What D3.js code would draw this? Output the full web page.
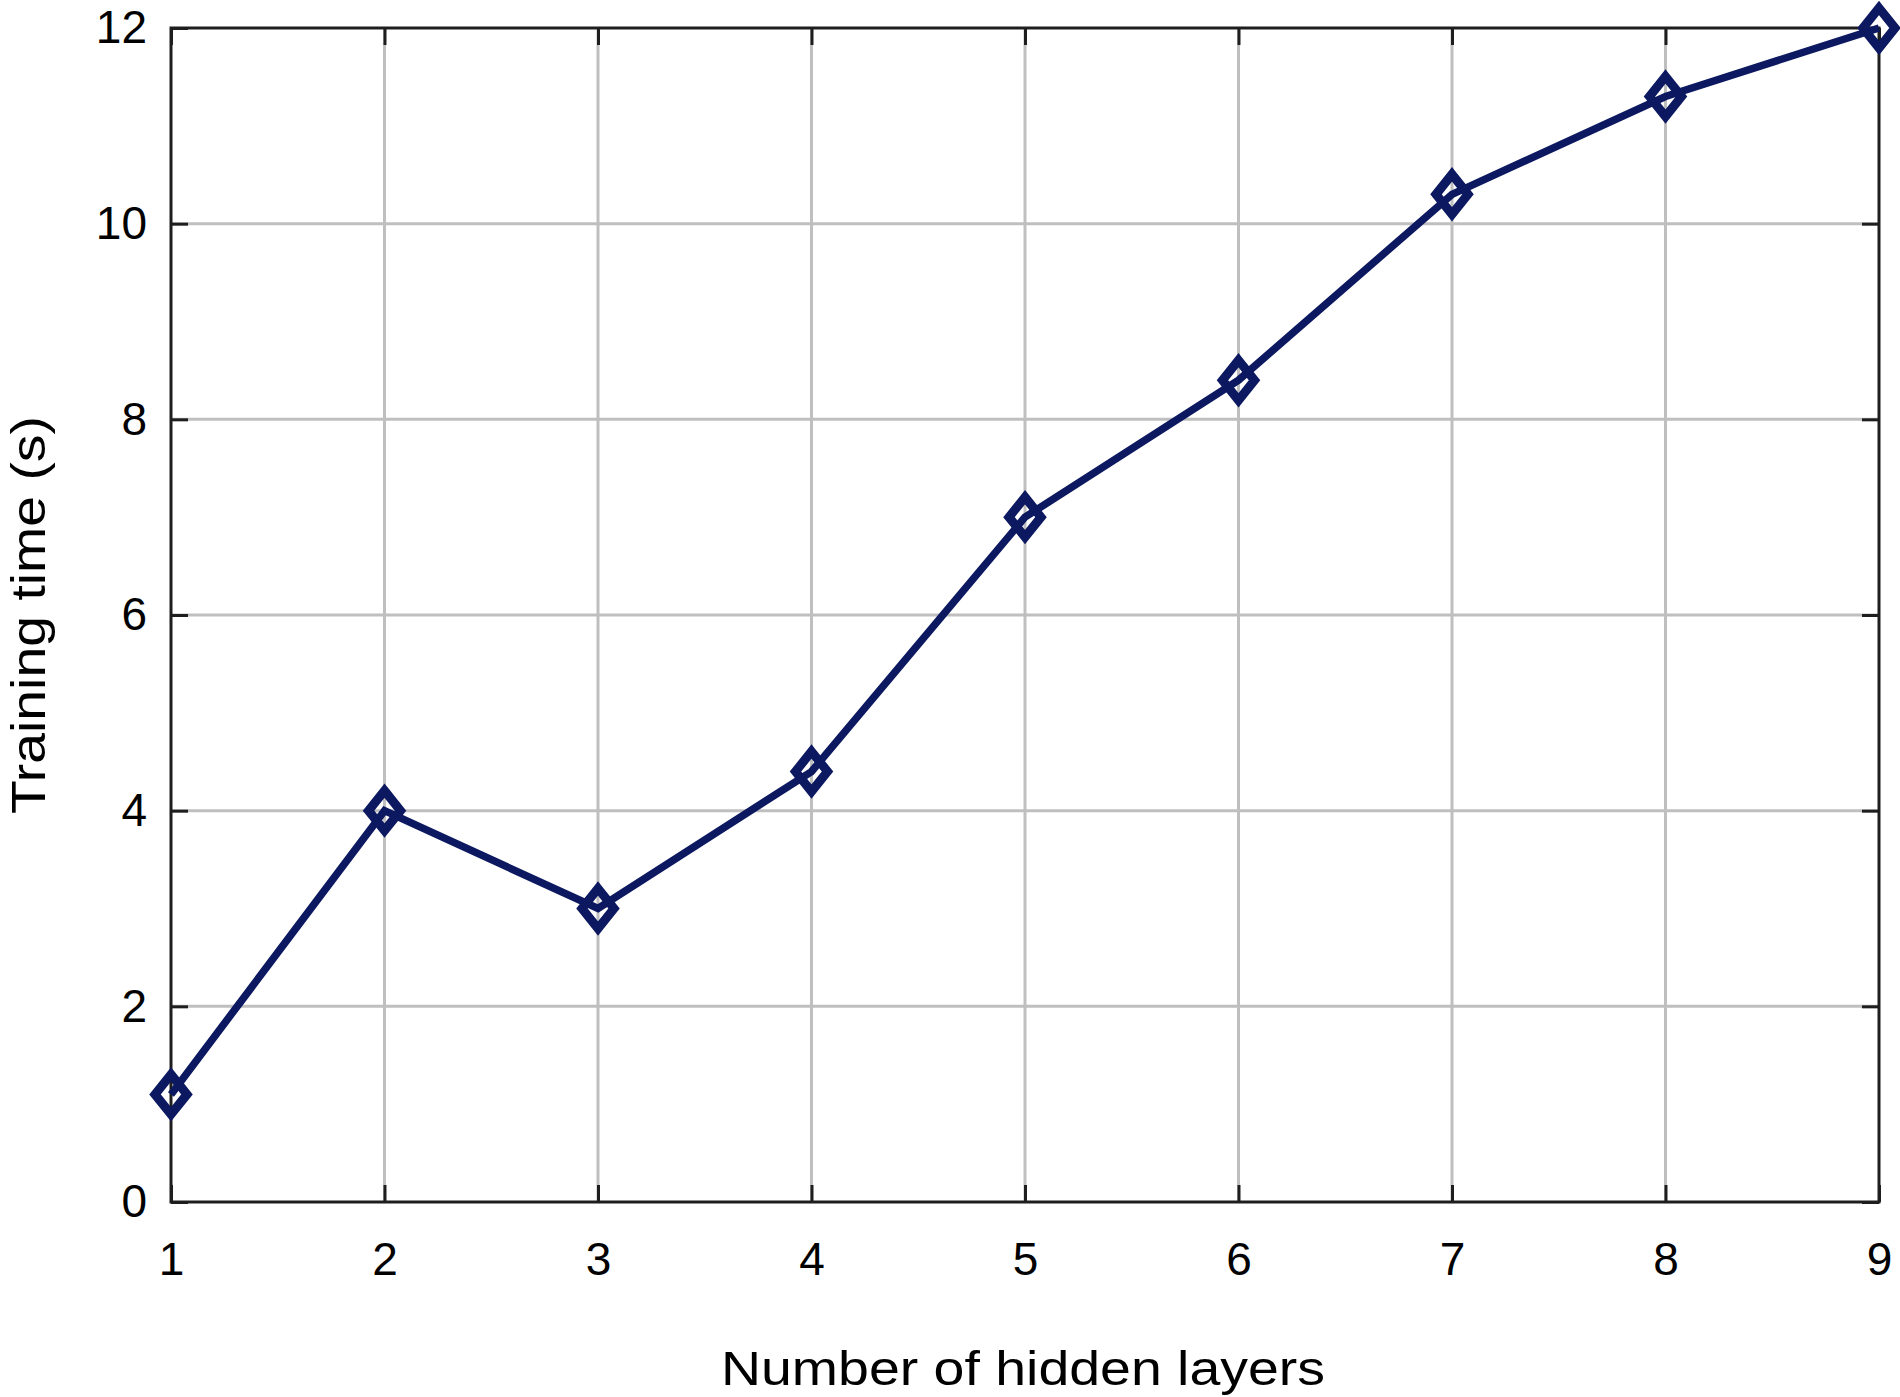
<!DOCTYPE html>
<html>
<head>
<meta charset="utf-8">
<script src="https://cdn.jsdelivr.net/npm/d3@7"></script>
<style>
  html, body { margin: 0; padding: 0; background: #fff; }
  svg { display: block; }
  text { font-family: "Liberation Sans", Arial, sans-serif; fill: #000; }
</style>
</head>
<body>
<svg id="chart" width="1900" height="1397"></svg>
<script>
const layers = [1, 2, 3, 4, 5, 6, 7, 8, 9];
const trainingTime = [1.1, 4.0, 3.0, 4.4, 7.0, 8.4, 10.3, 11.3, 12.0];
const xTicks = [1, 2, 3, 4, 5, 6, 7, 8, 9];
const yTicks = [0, 2, 4, 6, 8, 10, 12];
const xLabel = "Number of hidden layers";
const yLabel = "Training time (s)";

const svg = d3.select("#chart");
const L = 171, R = 1879, T = 28, B = 1202;

const x = d3.scaleLinear().domain([1, 9]).range([L, R]);
const y = d3.scaleLinear().domain([0, 12]).range([B, T]);

const gridColor = "#bfbfbf";
const axisColor = "#1e1e1e";
const lineColor = "#0c1860";

// gridlines
const grid = svg.append("g");
grid.selectAll("line.vx").data(xTicks.slice(1, -1)).enter().append("line")
  .attr("x1", d => x(d)).attr("x2", d => x(d)).attr("y1", T).attr("y2", B)
  .attr("stroke", gridColor).attr("stroke-width", 3);
grid.selectAll("line.hy").data(yTicks.slice(1, -1)).enter().append("line")
  .attr("y1", d => y(d)).attr("y2", d => y(d)).attr("x1", L).attr("x2", R)
  .attr("stroke", gridColor).attr("stroke-width", 3);

// axes via d3 axis
const tickLen = 17;
const xAxisB = svg.append("g").attr("transform", `translate(0,${B})`)
  .call(d3.axisBottom(x).tickValues(xTicks).tickSize(-tickLen).tickPadding(40).tickFormat(d3.format("d")));
const xAxisT = svg.append("g").attr("transform", `translate(0,${T})`)
  .call(d3.axisTop(x).tickValues(xTicks).tickSize(-tickLen).tickFormat(""));
const yAxisL = svg.append("g").attr("transform", `translate(${L},0)`)
  .call(d3.axisLeft(y).tickValues(yTicks).tickSize(-tickLen).tickPadding(24).tickFormat(d3.format("d")));
const yAxisR = svg.append("g").attr("transform", `translate(${R},0)`)
  .call(d3.axisRight(y).tickValues(yTicks).tickSize(-tickLen).tickFormat(""));

[xAxisB, xAxisT, yAxisL, yAxisR].forEach(g => {
  g.select(".domain").attr("d", null);
  g.selectAll(".tick line").attr("stroke", axisColor).attr("stroke-width", 3);
  g.selectAll(".tick text").attr("font-size", 46).attr("fill", "#000")
    .attr("font-family", "Liberation Sans, Arial, sans-serif");
});
xAxisB.selectAll(".tick text").attr("dy", "0.71em");

// frame
svg.append("rect").attr("x", L).attr("y", T).attr("width", R - L).attr("height", B - T)
  .attr("fill", "none").attr("stroke", axisColor).attr("stroke-width", 3);

// data line
const line = d3.line().x((d, i) => x(layers[i])).y(d => y(d));
svg.append("path").datum(trainingTime).attr("d", line)
  .attr("fill", "none").attr("stroke", lineColor).attr("stroke-width", 7.5)
  .attr("stroke-linejoin", "miter");

// diamond markers
const hw = 16, hh = 20;
svg.selectAll("path.mk").data(trainingTime).enter().append("path")
  .attr("d", (d, i) => {
    const cx = x(layers[i]), cy = y(d);
    return `M${cx},${cy - hh}L${cx + hw},${cy}L${cx},${cy + hh}L${cx - hw},${cy}Z`;
  })
  .attr("fill", "none").attr("stroke", lineColor).attr("stroke-width", 9)
  .attr("stroke-linejoin", "miter");

// axis titles
svg.append("text").attr("x", (L + R) / 2 - 2).attr("y", 1385)
  .attr("text-anchor", "middle").attr("font-size", 48)
  .attr("textLength", 604).attr("lengthAdjust", "spacingAndGlyphs").text(xLabel);
svg.append("text").attr("transform", `translate(45,${(T + B) / 2}) rotate(-90)`)
  .attr("text-anchor", "middle").attr("font-size", 48)
  .attr("textLength", 398).attr("lengthAdjust", "spacingAndGlyphs").text(yLabel);
</script>
</body>
</html>
